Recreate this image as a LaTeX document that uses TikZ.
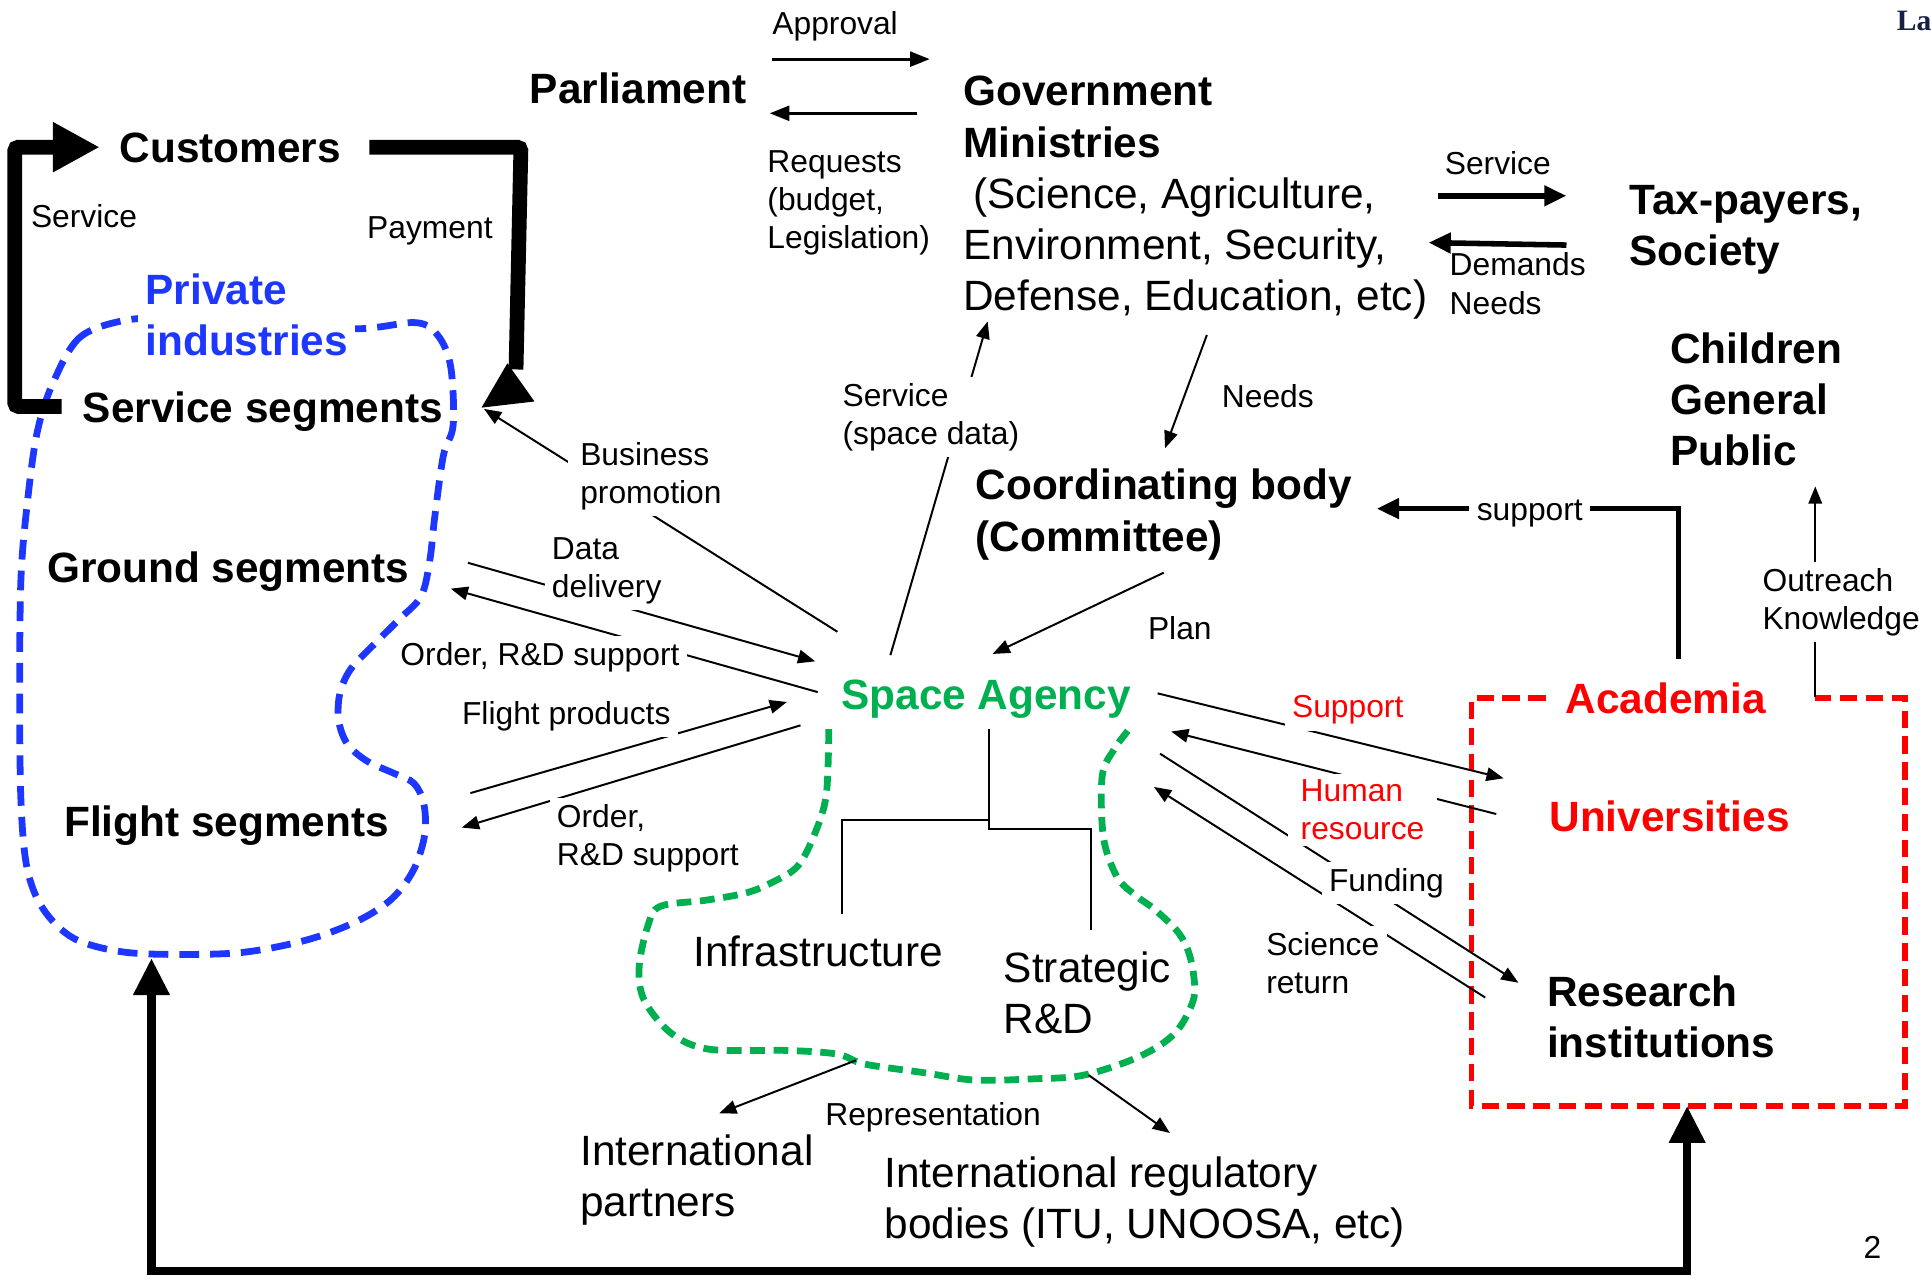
\documentclass[tikz,border=0pt]{standalone}
\usepackage{fontspec}
\setmainfont{Liberation Sans}
\newfontfamily\logofont{Liberation Serif}
\usetikzlibrary{arrows.meta,backgrounds}
\definecolor{pblue}{RGB}{30,55,255}
\definecolor{agreen}{RGB}{0,176,80}
\definecolor{ared}{RGB}{255,0,0}
\definecolor{navy}{RGB}{25,30,70}
\newcommand\fbig{\fontsize{34.4}{41.5}\selectfont}
\newcommand\fsmall{\fontsize{25.8}{31}\selectfont}
\begin{document}
\begin{tikzpicture}[x=1pt,y=-1pt,
  txt/.style={anchor=base west, align=left, inner xsep=6pt, inner ysep=5pt, xshift=-6pt},
  head/.style={txt, font=\fbig\bfseries},
  bigt/.style={txt, font=\fbig},
  lbl/.style={txt, font=\fsmall},
  cover/.style={fill=white},
  thin/.style={line width=1.6pt},
  thinarrow/.style={thin, -{Triangle[length=14pt,width=11pt]}},
  medarrow/.style={line width=2.5pt, -{Triangle[length=16pt,width=12pt]}},
  boldarrow/.style={line width=4.5pt, -{Triangle[length=18pt,width=16pt]}},
  heavy/.style={line width=12pt},
  loopline/.style={line width=7pt, line join=miter},
  blobblue/.style={draw=pblue, line width=5.5pt, dash pattern=on 16pt off 9pt},
  blobgreen/.style={draw=agreen, line width=5.5pt, dash pattern=on 12pt off 7pt},
  rectred/.style={draw=ared, line width=4.5pt, dash pattern=on 14pt off 7pt},
]
\useasboundingbox (0,0) rectangle (1568,1038);

% ---------- nodes (multi-line nodes are placed at the baseline of their last line) ----------
\node[head] (parl) at (430,84) {Parliament};
\node[lbl] (appr) at (627,28) {Approval};
\node[lbl] (req) at (623,202) {Requests\\(budget,\\Legislation)};
\node[bigt] (gov) at (782,252) {{\bfseries Government}\\{\bfseries Ministries}\\\hspace*{8pt}(Science, Agriculture,\\Environment, Security,\\Defense, Education, etc)};
\node[head] (cust) at (97,132) {Customers};
\node[lbl] (svcl) at (25,185) {Service};
\node[lbl] (pay) at (298,194) {Payment};
\node[head, text=pblue, cover] (priv) at (118,288.5) {Private\\industries};
\node[head] (sseg) at (67,343) {Service segments};
\node[head] (gseg) at (38,473) {Ground segments};
\node[head] (fseg) at (52,679) {Flight segments};
\node[lbl, cover, inner xsep=10pt, xshift=-4pt] (bprom) at (471,409) {Business\\promotion};
\node[lbl, cover] (ddel) at (448,485) {Data\\delivery};
\node[lbl, cover] (ord1) at (325,540) {Order, R\&D support};
\node[lbl, cover] (fprod) at (375,588) {Flight products};
\node[lbl, cover] (ord2) at (452,703) {Order,\\R\&D support};
\node[lbl, cover] (sdata) at (684,361) {Service\\(space data)};
\node[lbl] (needs) at (992,331) {Needs};
\node[head] (coord) at (792,447.5) {Coordinating body\\(Committee)};
\node[lbl, cover] (supp) at (1199,423) {support};
\node[lbl] (plan) at (932,519) {Plan};
\node[head, text=agreen, cover] (sa) at (683,576) {Space Agency};
\node[head] (child) at (1356,378) {Children\\General\\Public};
\node[head] (tax) at (1323,215.5) {Tax-payers,\\Society};
\node[lbl] (svcr) at (1173,142) {Service};
\node[lbl] (dem) at (1177,255) {Demands\\Needs};
\node[lbl, cover] (outr) at (1431,511) {Outreach\\Knowledge};
\node[lbl, text=ared, cover] (suppr) at (1049,583) {Support};
\node[lbl, text=ared, cover, inner xsep=10pt, xshift=-4pt] (hres) at (1056,682) {Human\\resource};
\node[lbl, cover] (fund) at (1079,724) {Funding};
\node[lbl, cover] (sret) at (1028,807) {Science\\return};
\node[head, text=ared] (acad) at (1271,579) {Academia};
\node[head, text=ared] (univ) at (1258,675) {Universities};
\node[head] (resi) at (1256,858.5) {Research\\institutions};
\node[bigt] (infra) at (563,785) {Infrastructure};
\node[bigt] (strat) at (815,839.5) {Strategic\\R\&D};
\node[lbl] (repr) at (670,914) {Representation};
\node[bigt] (ipart) at (471,987.5) {International\\partners};
\node[bigt] (ireg) at (718,1005.5) {International regulatory\\bodies (ITU, UNOOSA, etc)};
\node[lbl] (pnum) at (1513,1022) {2};
\node[anchor=base west, inner sep=0pt, font=\logofont\fontsize{24}{24}\selectfont\bfseries, text=navy] (logo) at (1540,25) {La};

% ---------- connector end points ----------
\coordinate (apS) at (627,48);   \coordinate (apE) at (755,48);
\coordinate (rqS) at (745,92);   \coordinate (rqE) at (625,92);
\coordinate (svS) at (1168,159); \coordinate (svE) at (1272,159);
\coordinate (dmS) at (1272,199); \coordinate (dmE) at (1160,197);
\coordinate (sdS) at (723,532);  \coordinate (sdE) at (802,261);
\coordinate (ndS) at (980,272);  \coordinate (ndE) at (946,364);
\coordinate (plS) at (945,465);  \coordinate (plE) at (806,531);
\coordinate (spS) at (1363,535); \coordinate (spC) at (1363,413); \coordinate (spE) at (1118,413);
\coordinate (orS) at (1474,566); \coordinate (orE) at (1474,395);
\coordinate (bpS) at (680,513);  \coordinate (bpE) at (393,332);
\coordinate (ddS) at (380,457);  \coordinate (ddE) at (662,537);
\coordinate (o1S) at (664,562);  \coordinate (o1E) at (366,478);
\coordinate (fpS) at (382,644);  \coordinate (fpE) at (639,570);
\coordinate (o2S) at (650,589);  \coordinate (o2E) at (375,672);
\coordinate (suS) at (940,563);  \coordinate (suE) at (1221,632);
\coordinate (hrS) at (1215,661); \coordinate (hrE) at (951,594);
\coordinate (fuS) at (942,612);  \coordinate (fuE) at (1233,798);
\coordinate (srS) at (1206,810); \coordinate (srE) at (937,639);
\coordinate (trA) at (803,592);  \coordinate (trB) at (803,673);
\coordinate (trC) at (886,673);  \coordinate (trD) at (886,755);
\coordinate (trE) at (803,666);  \coordinate (trF) at (684,666);
\coordinate (trG) at (684,742);
\coordinate (rpS1) at (695,861); \coordinate (rpE1) at (584,904);
\coordinate (rpS2) at (884,873); \coordinate (rpE2) at (950,920);
\coordinate (lpA) at (123,778);  \coordinate (lpB) at (123,1032);
\coordinate (lpC) at (1370,1032); \coordinate (lpD) at (1370,898);
\coordinate (cuA) at (50,330);   \coordinate (cuB) at (12,330);
\coordinate (cuC) at (12,119.5); \coordinate (cuD) at (81,119.5);
\coordinate (pyA) at (300,119.5); \coordinate (pyB) at (423,119.5);
\coordinate (pyC) at (419,300);
\coordinate (pyT1) at (391,331); \coordinate (pyT2) at (412,295); \coordinate (pyT3) at (434,326);

\begin{scope}[on background layer]
\fill[white] (0,0) rectangle (1568,1038);

% blue blob (private industries)
\draw[blobblue] plot[smooth cycle, tension=0.55] coordinates {
 (109,259) (66,273) (43,311) (30,352) (22,410) (17,470) (16,560) (17,650)
 (22,705) (35,738) (60,762) (100,773) (150,775) (200,773) (250,763) (290,748)
 (318,730) (336,706) (345,677) (344,652) (336,636) (320,628) (298,618) (282,604)
 (275,585) (276,563) (285,543) (306,521) (324,503) (342,484) (349,455) (353,420)
 (360,370) (368,345) (366,298) (356,273) (338,262) (290,267) (200,265) (150,262)};

% green blob (space agency)
\draw[blobgreen] plot[smooth, tension=0.55] coordinates {
 (673,592) (671,645) (662,676) (648,703) (628,716) (606,725) (573,731) (536,736)
 (526,752) (519,785) (523,812) (545,839) (576,852) (640,853) (680,856) (702,864)
 (750,871) (791,877) (840,876) (880,873) (925,858) (954,839) (969,812) (969,790)
 (964,770) (955,755) (937,738) (922,727) (907,712) (896,680) (895,630) (905,608) (917,592)};

% red dashed frame (academia)
\draw[rectred] (1255,567) -- (1195,567) -- (1195,898) -- (1547,898) -- (1547,567) -- (1474,567);

% heavy customer loop
\draw[heavy, rounded corners=3pt, -{Triangle[length=38pt,width=38pt]}] (cuA) -- (cuB) -- (cuC) -- (cuD);
\draw[heavy, rounded corners=3pt] (pyA) -- (pyB) -- (pyC);
\fill (pyT1) -- (pyT2) -- (pyT3) -- cycle;

% bottom loop
\draw[loopline, {Triangle[length=30pt,width=28pt]}-{Triangle[length=30pt,width=28pt]}] (lpA) -- (lpB) -- (lpC) -- (lpD);

% parliament / government
\draw[medarrow] (apS) -- (apE);
\draw[medarrow] (rqS) -- (rqE);
\draw[boldarrow] (svS) -- (svE);
\draw[boldarrow] (dmS) -- (dmE);
\draw[boldarrow, line join=miter] (spS) -- (spC) -- (spE);

% thin arrows
\draw[thinarrow] (sdS) -- (sdE);
\draw[thinarrow] (ndS) -- (ndE);
\draw[thinarrow] (plS) -- (plE);
\draw[thinarrow] (orS) -- (orE);
\draw[thinarrow] (bpS) -- (bpE);
\draw[thinarrow] (ddS) -- (ddE);
\draw[thinarrow] (o1S) -- (o1E);
\draw[thinarrow] (fpS) -- (fpE);
\draw[thinarrow] (o2S) -- (o2E);
\draw[thinarrow] (suS) -- (suE);
\draw[thinarrow] (hrS) -- (hrE);
\draw[thinarrow] (fuS) -- (fuE);
\draw[thinarrow] (srS) -- (srE);
\draw[thinarrow] (rpS1) -- (rpE1);
\draw[thinarrow] (rpS2) -- (rpE2);

% organisation tree
\draw[thin] (trA) -- (trB) -- (trC) -- (trD);
\draw[thin] (trE) -- (trF) -- (trG);
\end{scope}
\end{tikzpicture}
\end{document}
